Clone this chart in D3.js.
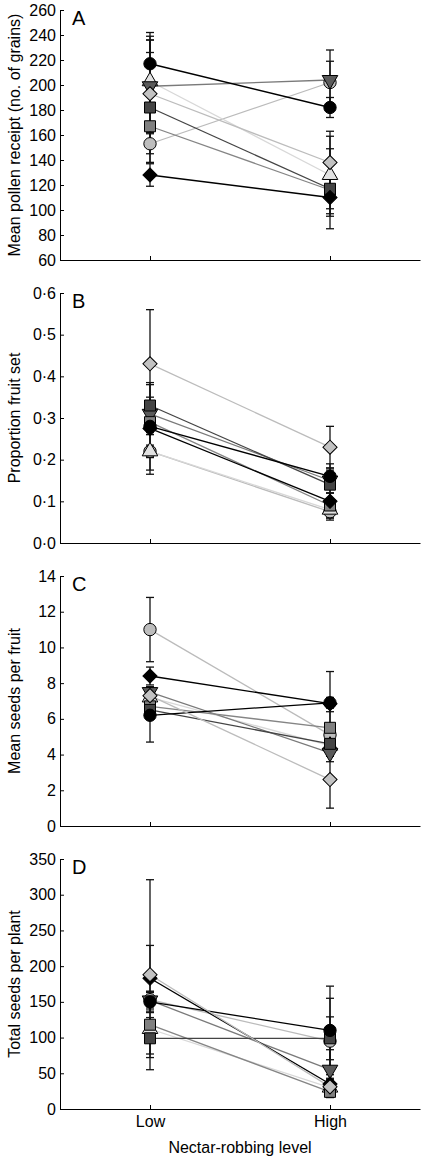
<!DOCTYPE html>
<html><head><meta charset="utf-8">
<script src="https://cdn.jsdelivr.net/npm/d3@7"></script>
<style>
html,body{margin:0;padding:0;background:#fff;}
svg{display:block;font-family:"Liberation Sans",Arial,sans-serif;}
</style></head>
<body><svg id="chart" width="421" height="1156"></svg>
<script>
// Series (populations), identified by marker
const series = ["blackCircle","greyCircle","triUp","triDown","darkSquare","medSquare","blackDiamond","greyDiamond"];
const levels = ["Low","High"];

// Panel A: mean pollen receipt
const pollenLow    = [217,153,203,199,182,167,128,193];
const pollenHigh   = [182,202,128,204,117,116,110,138];
const pollenLowSE  = [25,8,36,37,44,29,9,43];
const pollenHighSE = [8,17,31,24,32,21,9,25];
const pollenTicks  = [60,80,100,120,140,160,180,200,220,240,260];

// Panel B: proportion fruit set
const fruitLow     = [0.28,0.22,0.22,0.31,0.33,0.29,0.275,0.43];
const fruitHigh    = [0.16,0.075,0.08,0.15,0.14,0.09,0.10,0.23];
const fruitLowSE   = [0.07,0.015,0.045,0.03,0.05,0.03,0.11,0.13];
const fruitHighSE  = [0.03,0.02,0.02,0.03,0.035,0.03,0.02,0.05];
const fruitTicks   = [0,0.1,0.2,0.3,0.4,0.5,0.6];

// Panel C: mean seeds per fruit
const seedsLow     = [6.2,11.0,7.2,7.5,6.5,6.7,8.4,7.3];
const seedsHigh    = [6.9,5.1,4.5,4.1,4.6,5.5,6.85,2.6];
const seedsLowSE   = [1.5,1.8,0.5,0.3,0.4,0.4,0.5,0.5];
const seedsHighSE  = [0.3,0.4,0.4,0.5,0.7,0.9,1.8,1.6];
const seedsTicks   = [0,2,4,6,8,10,12,14];

// Panel D: total seeds per plant
const totalLow     = [150,153,112,152,99,118,183,188];
const totalHigh    = [110,95,30,55,99,24,35,31];
const totalLowSE   = [15,10,40,12,22,10,46,133];
const totalHighSE  = [62,60,8,28,30,8,8,10];
const totalTicks   = [0,50,100,150,200,250,300,350];

const panels = [
  {letter:"A", title:"Mean pollen receipt (no. of grains)", lo:pollenLow, hi:pollenHigh, loSE:pollenLowSE, hiSE:pollenHighSE, ticks:pollenTicks, fmt:d=>d},
  {letter:"B", title:"Proportion fruit set", lo:fruitLow, hi:fruitHigh, loSE:fruitLowSE, hiSE:fruitHighSE, ticks:fruitTicks, fmt:d=>d3.format(".1f")(d).replace(".","·")},
  {letter:"C", title:"Mean seeds per fruit", lo:seedsLow, hi:seedsHigh, loSE:seedsLowSE, hiSE:seedsHighSE, ticks:seedsTicks, fmt:d=>d},
  {letter:"D", title:"Total seeds per plant", lo:totalLow, hi:totalHigh, loSE:totalLowSE, hiSE:totalHighSE, ticks:totalTicks, fmt:d=>d}
];

const style = {
  blackCircle: {shape:"circle", fill:"#000", line:"#000"},
  greyCircle:  {shape:"circle", fill:"#bdbdbd", line:"#bbb"},
  triUp:       {shape:"triUp", fill:"#e2e2e2", line:"#d8d8d8"},
  triDown:     {shape:"triDown", fill:"#5a5a5a", line:"#7a7a7a"},
  darkSquare:  {shape:"square", fill:"#444", line:"#444"},
  medSquare:   {shape:"square", fill:"#808080", line:"#858585"},
  blackDiamond:{shape:"diamond", fill:"#000", line:"#000"},
  greyDiamond: {shape:"diamond", fill:"#c2c2c2", line:"#bcbcbc"}
};
const drawOrder = ["greyCircle","triUp","triDown","medSquare","darkSquare","blackCircle","blackDiamond","greyDiamond"];

const FONT = "'Liberation Sans',Arial,sans-serif";
const svg = d3.select("#chart");
const left = 60, right = 420, panelH = 250, tops = [10,293,576,859];
const x = d3.scalePoint().domain(levels).range([left,right]).padding(0.5);

function symPath(shape){
  if(shape==="circle") return d3.symbol(d3.symbolCircle, 120)();
  if(shape==="square") return d3.symbol(d3.symbolSquare, 121)();
  if(shape==="diamond") return d3.symbol(d3.symbolSquare, 100)();
  return d3.symbol(d3.symbolTriangle, 105)();
}
function symRot(shape){
  if(shape==="diamond") return 45;
  if(shape==="triDown") return 180;
  return 0;
}

panels.forEach((p,pi)=>{
  const top = tops[pi], bottom = top + panelH;
  const dom = d3.extent(p.ticks);
  const y = d3.scaleLinear().domain(dom).range([bottom, top]);
  const g = svg.append("g");

  // y axis (ticks inward)
  const ya = g.append("g").attr("transform",`translate(${left},0)`)
    .call(d3.axisLeft(y).tickValues(p.ticks).tickFormat(p.fmt).tickSizeInner(-4).tickSizeOuter(0).tickPadding(4));
  ya.selectAll("text").attr("font-size",16).attr("fill","#000").style("font-family",FONT);
  ya.selectAll("line,path").attr("stroke","#000");

  // x axis (ticks inward)
  const xa = g.append("g").attr("transform",`translate(0,${bottom})`)
    .call(d3.axisBottom(x).tickSizeInner(-4).tickSizeOuter(0).tickPadding(7));
  xa.selectAll("line,path").attr("stroke","#000");
  xa.selectAll("text").attr("font-size",16).attr("fill","#000").style("font-family",FONT);
  if(pi<3) xa.selectAll("text").remove();

  // y title
  g.append("text").attr("transform",`translate(20,${(top+bottom)/2}) rotate(-90)`)
    .attr("text-anchor","middle").attr("font-size",16).attr("fill","#000").style("font-family",FONT).text(p.title);
  // panel letter
  g.append("text").attr("x",72).attr("y",top+15).attr("font-size",20).attr("fill","#000").style("font-family",FONT).text(p.letter);

  const rows = series.map((s,i)=>({s, lo:p.lo[i], hi:p.hi[i], loSE:p.loSE[i], hiSE:p.hiSE[i]}));

  // connecting lines
  drawOrder.forEach(s=>{
    const r = rows.find(d=>d.s===s);
    g.append("line").attr("x1",x("Low")).attr("y1",y(r.lo)).attr("x2",x("High")).attr("y2",y(r.hi))
      .attr("stroke",style[s].line).attr("stroke-width",1.3);
  });

  // error bars
  const eb = g.append("g").attr("stroke","#111").attr("stroke-width",1.3);
  rows.forEach(r=>{
    [["Low",r.lo,r.loSE],["High",r.hi,r.hiSE]].forEach(([lv,m,se])=>{
      const cx = x(lv);
      eb.append("line").attr("x1",cx).attr("x2",cx).attr("y1",y(m-se)).attr("y2",y(m+se));
      eb.append("line").attr("x1",cx-4).attr("x2",cx+4).attr("y1",y(m+se)).attr("y2",y(m+se));
      eb.append("line").attr("x1",cx-4).attr("x2",cx+4).attr("y1",y(m-se)).attr("y2",y(m-se));
    });
  });

  // markers
  drawOrder.forEach(s=>{
    const r = rows.find(d=>d.s===s);
    const st = style[s];
    [["Low",r.lo],["High",r.hi]].forEach(([lv,m])=>{
      g.append("path").attr("d",symPath(st.shape))
        .attr("transform",`translate(${x(lv)},${y(m)}) rotate(${symRot(st.shape)})`)
        .attr("fill",st.fill).attr("stroke","#000").attr("stroke-width",1);
    });
  });
});

svg.append("text").attr("x",(x("Low")+x("High"))/2).attr("y",1153).attr("text-anchor","middle")
  .attr("font-size",16).attr("fill","#000").style("font-family",FONT).text("Nectar-robbing level");
</script></body></html>
